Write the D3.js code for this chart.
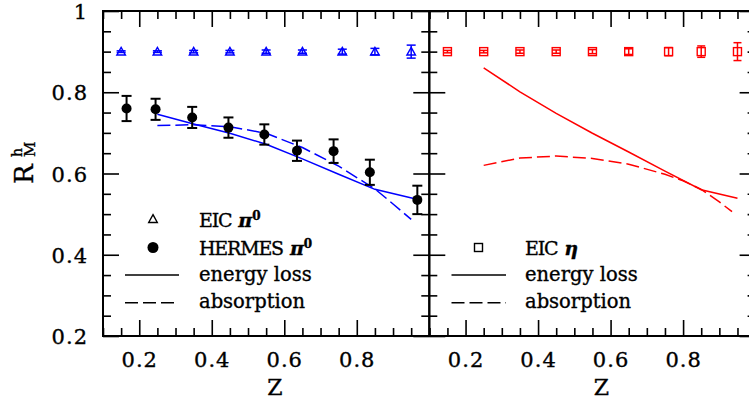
<!DOCTYPE html>
<html><head><meta charset="utf-8">
<script src="https://cdn.jsdelivr.net/npm/d3@7"></script>
<style>
html,body{margin:0;padding:0;background:#fff;}
svg{display:block;}
text{font-family:"DejaVu Serif",serif;fill:#000;stroke:#000;stroke-width:0.35px;}
</style></head>
<body><div id="chart"></div>
<script>
// ---- data ----
const zEIC = [0.15,0.25,0.35,0.45,0.55,0.65,0.76,0.85,0.95];
const rEicPi0 = [0.9,0.9,0.9,0.9,0.9,0.9,0.9,0.9,0.9];
const errEicPi0 = [0.002,0.002,0.003,0.003,0.004,0.004,0.006,0.008,0.016];
const rEicEta = [0.9,0.9,0.9,0.9,0.9,0.9,0.9,0.9,0.9];
const errEicEta = [0.003,0.003,0.004,0.004,0.005,0.007,0.010,0.014,0.022];
const zHermes = [0.165,0.245,0.346,0.446,0.545,0.635,0.736,0.836,0.967];
const rHermes = [0.760,0.758,0.738,0.713,0.696,0.656,0.655,0.603,0.535];
const errHermes = [0.031,0.026,0.026,0.025,0.025,0.025,0.029,0.031,0.035];
const zElossPi0 = [0.25,0.35,0.45,0.55,0.65,0.75,0.85,0.96];
const rElossPi0 = [0.746,0.722,0.699,0.672,0.636,0.598,0.561,0.538];
const zAbsPi0 = [0.25,0.35,0.45,0.55,0.65,0.75,0.85,0.90,0.95];
const rAbsPi0 = [0.718,0.720,0.715,0.699,0.664,0.618,0.562,0.525,0.487];
const zElossEta = [0.25,0.35,0.45,0.55,0.65,0.75,0.85,0.95];
const rElossEta = [0.860,0.801,0.748,0.699,0.653,0.606,0.560,0.539];
const zAbsEta = [0.25,0.35,0.45,0.55,0.65,0.75,0.80,0.85,0.90,0.935];
const rAbsEta = [0.620,0.638,0.643,0.637,0.623,0.598,0.582,0.561,0.530,0.506];
const xMajor = [0.2,0.4,0.6,0.8];
const xTickLabels = ["0.2","0.4","0.6","0.8"];
const yMajor = [0.2,0.4,0.6,0.8,1.0];
const yTickLabels = ["0.2","0.4","0.6","0.8","1"];

// ---- layout ----
const W = 749, H = 402;
const svg = d3.select("#chart").append("svg").attr("width", W).attr("height", H);
const y = d3.scaleLinear().domain([0.2,1]).range([336,11]);
const xL = d3.scaleLinear().domain([0.1,1]).range([103,429.3]);
const xR = d3.scaleLinear().domain([0.1,1]).range([429.3,755.6]);
const minorX = d3.range(0.1,1.001,0.05).filter(v => !xMajor.some(m => Math.abs(m-v)<1e-6));
const minorY = d3.range(0.2,1.001,0.05).filter(v => !yMajor.some(m => Math.abs(m-v)<1e-6));

function frame(x, showYLabels) {
  const g = svg.append("g");
  const tick = (sel) => sel.call(s => s.select(".domain").remove())
                           .call(s => s.selectAll(".tick line").attr("stroke","#000").attr("stroke-width",1.6));
  // bottom
  g.append("g").attr("transform","translate(0,336)")
    .call(d3.axisBottom(x).tickValues(minorX).tickSize(-8).tickFormat("")).call(tick);
  const b = g.append("g").attr("transform","translate(0,336)")
    .call(d3.axisBottom(x).tickValues(xMajor).tickSize(-16)
      .tickFormat((d,i)=>xTickLabels[i])).call(tick);
  b.selectAll("text").attr("font-size",21).attr("letter-spacing","1px").attr("font-family","DejaVu Serif")
    .attr("dy",0).attr("y",31).attr("fill","#000");
  // top
  g.append("g").attr("transform","translate(0,11)")
    .call(d3.axisTop(x).tickValues(minorX).tickSize(-8).tickFormat("")).call(tick);
  g.append("g").attr("transform","translate(0,11)")
    .call(d3.axisTop(x).tickValues(xMajor).tickSize(-16).tickFormat("")).call(tick);
  // left
  const x0 = x.range()[0], x1 = x.range()[1];
  g.append("g").attr("transform",`translate(${x0},0)`)
    .call(d3.axisLeft(y).tickValues(minorY).tickSize(-8).tickFormat("")).call(tick);
  const l = g.append("g").attr("transform",`translate(${x0},0)`)
    .call(d3.axisLeft(y).tickValues(yMajor).tickSize(-16)
      .tickFormat((d,i)=> showYLabels ? yTickLabels[i] : "")).call(tick);
  l.selectAll("text").attr("font-size",21).attr("letter-spacing","1px").attr("font-family","DejaVu Serif")
    .attr("x",88-x0).attr("dy","0.36em").attr("fill","#000");
  // right
  g.append("g").attr("transform",`translate(${x1},0)`)
    .call(d3.axisRight(y).tickValues(minorY).tickSize(-8).tickFormat("")).call(tick);
  g.append("g").attr("transform",`translate(${x1},0)`)
    .call(d3.axisRight(y).tickValues(yMajor).tickSize(-16).tickFormat("")).call(tick);
  g.append("rect").attr("x",x0).attr("y",11).attr("width",x1-x0).attr("height",325)
    .attr("fill","none").attr("stroke","#000").attr("stroke-width",2);
  // x title
  g.append("text").attr("x",x0+172).attr("y",395).attr("text-anchor","middle")
    .attr("font-size",22).text("Z");
}

function curve(x, zs, rs, color, dashed) {
  const line = d3.line().x(d=>x(d[0])).y(d=>y(d[1]));
  svg.append("path").attr("d", line(zs.map((z,i)=>[z,rs[i]])))
    .attr("fill","none").attr("stroke",color).attr("stroke-width",1.5)
    .attr("stroke-dasharray", dashed ? "13,5" : null);
}

function errbars(x, zs, rs, es, color, cap, sw) {
  const g = svg.append("g").attr("stroke",color).attr("stroke-width",sw).attr("fill","none");
  zs.forEach((z,i)=>{
    const cx = x(z), top = y(rs[i]+es[i]), bot = y(rs[i]-es[i]);
    g.append("line").attr("x1",cx).attr("x2",cx).attr("y1",top).attr("y2",bot);
    g.append("line").attr("x1",cx-cap).attr("x2",cx+cap).attr("y1",top).attr("y2",top);
    g.append("line").attr("x1",cx-cap).attr("x2",cx+cap).attr("y1",bot).attr("y2",bot);
  });
}

function triangle(g, cx, cy, color) {
  const s = 4.3;
  g.append("path").attr("d",`M${cx},${cy-s}L${cx+s},${cy+s*0.8}L${cx-s},${cy+s*0.8}Z`)
    .attr("fill","none").attr("stroke",color).attr("stroke-width",1.4);
}
function square(g, cx, cy, color) {
  const s = 4;
  g.append("rect").attr("x",cx-s).attr("y",cy-s).attr("width",2*s).attr("height",2*s)
    .attr("fill","none").attr("stroke",color).attr("stroke-width",1.4);
}

frame(xL, true);
frame(xR, false);

// left panel
curve(xL, zElossPi0, rElossPi0, "#0000ff", false);
curve(xL, zAbsPi0, rAbsPi0, "#0000ff", true);
errbars(xL, zEIC, rEicPi0, errEicPi0, "#0000ff", 4.5, 1.5);
const gt = svg.append("g");
zEIC.forEach((z,i)=>triangle(gt, xL(z), y(rEicPi0[i]), "#0000ff"));
errbars(xL, zHermes, rHermes, errHermes, "#000", 5, 2);
svg.append("g").selectAll("circle").data(zHermes).join("circle")
  .attr("cx",d=>xL(d)).attr("cy",(d,i)=>y(rHermes[i])).attr("r",5).attr("fill","#000");

// right panel
curve(xR, zElossEta, rElossEta, "#ff0000", false);
curve(xR, zAbsEta, rAbsEta, "#ff0000", true);
errbars(xR, zEIC, rEicEta, errEicEta, "#ff0000", 4, 1.5);
const gs = svg.append("g");
zEIC.forEach((z,i)=>square(gs, xR(z), y(rEicEta[i]), "#ff0000"));

// y title
const yt = svg.append("g").attr("transform","translate(33,184) rotate(-90)");
yt.append("text").attr("x",0).attr("y",0).attr("font-size",26).text("R");
yt.append("text").attr("x",27).attr("y",-11).attr("font-size",14).text("h");
yt.append("text").attr("x",27).attr("y",2).attr("font-size",15).text("M");

// legends
const lg = svg.append("g");
function legText(x, yb, main, greek) {
  const t = lg.append("text").attr("x",x).attr("y",yb).attr("font-size",19);
  if (greek) {
    t.append("tspan").attr("letter-spacing","-1.2px").text(main);
    t.append("tspan").attr("font-style","italic").attr("font-weight","bold").attr("dx",7).text(greek[0]);
    if (greek[1]) t.append("tspan").attr("font-size",12).attr("font-weight","bold").attr("dy",-7).text(greek[1]);
  } else {
    t.append("tspan").attr("font-size",19.5).text(main);
  }
}
triangle(lg, 153, 219, "#000");
legText(199, 226.5, "EIC", ["π","0"]);
lg.append("circle").attr("cx",153).attr("cy",247.5).attr("r",5.5).attr("fill","#000");
legText(199, 254.5, "HERMES", ["π","0"]);
lg.append("line").attr("x1",125).attr("x2",179).attr("y1",275).attr("y2",275).attr("stroke","#000").attr("stroke-width",1.5);
legText(199, 281, "energy loss");
lg.append("line").attr("x1",125).attr("x2",179).attr("y1",302.7).attr("y2",302.7).attr("stroke","#000").attr("stroke-width",1.5).attr("stroke-dasharray","13,5");
legText(199, 308, "absorption");

square(lg, 478.5, 247.5, "#000");
legText(525, 254.5, "EIC", ["η"]);
lg.append("line").attr("x1",451.5).attr("x2",506).attr("y1",275).attr("y2",275).attr("stroke","#000").attr("stroke-width",1.5);
legText(525, 281, "energy loss");
lg.append("line").attr("x1",451.5).attr("x2",506).attr("y1",302.7).attr("y2",302.7).attr("stroke","#000").attr("stroke-width",1.5).attr("stroke-dasharray","13,5");
legText(525, 308, "absorption");
</script></body></html>
